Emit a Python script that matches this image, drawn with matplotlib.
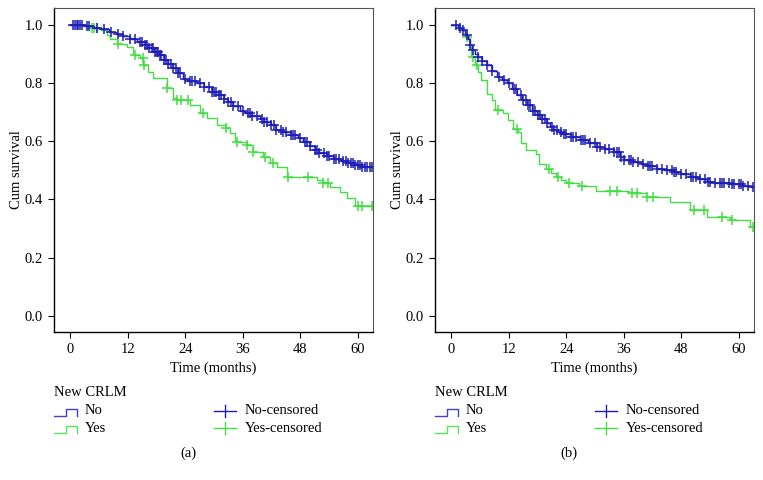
import numpy as np
import matplotlib.pyplot as plt
from matplotlib.lines import Line2D

plt.rcParams['font.family'] = ['Liberation Serif', 'DejaVu Serif']

BLUE = '#1f1fb8'
GREEN = '#44dd44'
T_END = 63.2

# panel (a): event times and survival after each step
a_no_t = [3, 5, 6.5, 8, 9.5, 11, 12.5, 14, 15.5, 16.5, 17.5, 18.5, 19.5, 20.5, 21.5,
          22.5, 23.5, 24.5, 26.5, 28, 29.5, 31, 32, 33, 34, 35.5, 36.5, 38, 39.5, 40.5,
          42, 43, 44.5, 46, 47.5, 48.5, 50, 51, 52, 53.5, 55, 56.5, 58, 59.5, 61]
a_no_s = [0.995, 0.99, 0.985, 0.975, 0.968, 0.96, 0.95, 0.94, 0.93, 0.92, 0.905, 0.895,
          0.88, 0.865, 0.85, 0.835, 0.815, 0.805, 0.80, 0.785, 0.77, 0.76, 0.745, 0.735,
          0.72, 0.705, 0.695, 0.685, 0.675, 0.665, 0.655, 0.64, 0.632, 0.622, 0.61, 0.598,
          0.585, 0.57, 0.56, 0.55, 0.54, 0.532, 0.525, 0.518, 0.512]
a_no_cens = [0.5, 1, 1.3, 1.6, 2, 2.5, 3.5, 4, 5.5, 7, 8.5, 10, 11, 12.5, 13.5, 14.5, 15,
             15.5, 16, 16.5, 17, 17.3, 17.6, 18, 18.3, 18.7, 19, 19.5, 20, 20.5, 21, 21.5,
             22, 22.5, 23, 24, 25, 25.5, 26, 27, 28, 29, 29.5, 30, 30.5, 31, 31.5, 32, 33,
             33.5, 34, 35, 36, 37, 37.5, 38, 39, 40, 40.5, 41, 42, 42.5, 43, 44, 44.5, 45,
             46, 46.5, 47, 48, 49, 49.5, 50, 51, 51.5, 52, 53, 53.5, 54, 55, 55.5, 56, 57,
             57.5, 58, 58.5, 59, 59.5, 60, 60.5, 61, 61.5, 62, 62.5, 63]

a_yes_t = [3.5, 6.5, 7.6, 8.3, 9.7, 11.8, 13.1, 14.5, 15.2, 16.3, 17.3, 20.1, 21.5, 22.2,
           25, 27, 28.5, 30.6, 32.6, 33.3, 34.4, 36.8, 38.2, 40.2, 41.7, 43.1, 45.2, 51.5,
           52.8, 54.2, 56.3, 57.7, 59.5]
a_yes_s = [0.99, 0.98, 0.965, 0.95, 0.935, 0.924, 0.895, 0.885, 0.86, 0.837, 0.816, 0.781,
           0.747, 0.741, 0.724, 0.696, 0.679, 0.655, 0.645, 0.627, 0.598, 0.587, 0.563,
           0.546, 0.524, 0.512, 0.478, 0.465, 0.455, 0.443, 0.426, 0.404, 0.377]
a_yes_cens = [4.5, 5, 5.5, 10, 13.5, 15.1, 15.4, 20.1, 22.2, 23.2, 24.6, 27.7, 32.6, 34.7,
              36.8, 38.2, 40.6, 42.4, 45.5, 49.7, 52.8, 53.8, 60.1, 60.8, 63]

# panel (b)
b_no_t = [1.5, 2.3, 2.9, 3.4, 3.8, 4.3, 5, 5.6, 6.5, 7.4, 8.5, 9.5, 10.5, 11.6, 12.6,
          13.7, 14.8, 15.8, 16.8, 17.9, 18.9, 19.9, 20.6, 21.3, 22.3, 23.4, 25, 26.9,
          28.5, 30.4, 32, 33.9, 35.3, 36, 38, 39.5, 41, 42.9, 44.5, 46.4, 48, 49.9, 51.5,
          53.4, 55, 58.3, 61, 62.5]
b_no_s = [0.99, 0.98, 0.965, 0.95, 0.93, 0.912, 0.9, 0.889, 0.875, 0.86, 0.84, 0.82, 0.81,
          0.798, 0.78, 0.758, 0.74, 0.723, 0.705, 0.689, 0.675, 0.661, 0.65, 0.638, 0.632,
          0.626, 0.615, 0.603, 0.592, 0.58, 0.572, 0.563, 0.545, 0.535, 0.53, 0.523, 0.515,
          0.506, 0.5, 0.495, 0.487, 0.478, 0.47, 0.46, 0.455, 0.452, 0.447, 0.441]
b_no_cens = [0.9, 1.8, 2.5, 3.2, 3.8, 4.5, 5.6, 6.5, 7.5, 8.5, 10, 11, 12, 13, 13.5, 14.5,
             15, 15.5, 16, 16.5, 17, 17.5, 18, 18.5, 19, 19.5, 20, 21, 21.5, 22, 23, 23.5,
             24, 25, 25.5, 26, 27, 27.5, 28, 29, 30, 30.5, 31, 32, 33, 34, 34.5, 35, 35.5,
             36, 37, 37.5, 38, 39, 40, 41, 41.5, 42, 43, 44, 45, 46, 46.5, 47, 48, 49, 50,
             50.5, 51, 52, 53, 53.5, 54, 55, 56, 56.5, 57, 58, 58.5, 59, 60, 60.5, 61, 62, 63]

b_yes_t = [1.8, 2.9, 3.6, 4.1, 5.0, 5.6, 6.3, 7.4, 8.4, 9.1, 10.8, 11.9, 12.9, 13.9, 14.6,
           15.6, 17.7, 18.4, 19.7, 20.8, 21.8, 22.8, 23.9, 26.7, 30.2, 37.2, 40.7, 45.6,
           49.8, 53.3, 58.2, 62.4]
b_yes_s = [0.98, 0.958, 0.924, 0.889, 0.86, 0.837, 0.809, 0.763, 0.74, 0.706, 0.695, 0.672,
           0.643, 0.632, 0.592, 0.569, 0.557, 0.523, 0.506, 0.49, 0.478, 0.465, 0.455,
           0.446, 0.43, 0.421, 0.409, 0.392, 0.363, 0.34, 0.329, 0.306]
b_yes_cens = [3.2, 4.6, 5.3, 9.8, 13.7, 20.3, 22.3, 24.5, 27.3, 33.2, 34.6, 37.7, 38.7,
              40.9, 42.2, 50.6, 52.7, 56.5, 58.6, 63]

x_ticks = [0, 12, 24, 36, 48, 60]
y_ticks = [0.0, 0.2, 0.4, 0.6, 0.8, 1.0]

W, H = 763, 480


def fx(px):
    return px / W


def fy(py):
    return 1 - py / H


def km(ax, t, s, cens, color):
    tt = np.r_[0, t, T_END]
    ss = np.r_[1.0, s, s[-1]]
    ax.step(tt, ss, where='post', color=color, lw=1.0)
    idx = np.searchsorted(tt, cens, side='right') - 1
    ax.plot(cens, ss[idx], ls='none', marker='+', ms=6.5, mew=1.1, color=color)


def legend(x0, label):
    fig.text(fx(x0), fy(393), 'New CRLM', fontsize=10.5, va='center', ha='left')
    for py, txt, col in [(411, 'No', BLUE), (428, 'Yes', GREEN)]:
        xs = [x0, x0 + 12, x0 + 12, x0 + 23, x0 + 23]
        ys = [py + 5, py + 5, py - 2, py - 2, py + 5]
        fig.add_artist(Line2D([fx(v) for v in xs], [fy(v) for v in ys], color=col, lw=1.0,
                              alpha=0.85, transform=fig.transFigure))
        fig.text(fx(x0 + 31), fy(py), txt, fontsize=10.5, va='center', ha='left')
    for py, txt, col in [(411, 'No-censored', BLUE), (428, 'Yes-censored', GREEN)]:
        cx = x0 + 171
        fig.add_artist(Line2D([fx(cx - 11), fx(cx + 11)], [fy(py), fy(py)], color=col,
                              lw=1.0, transform=fig.transFigure))
        fig.add_artist(Line2D([fx(cx), fx(cx)], [fy(py - 6), fy(py + 6)], color=col,
                              lw=1.0, transform=fig.transFigure))
        fig.text(fx(x0 + 191), fy(py), txt, fontsize=10.5, va='center', ha='left')
    fig.text(fx(x0 + 134), fy(453), label, fontsize=10.5, va='center', ha='center')


fig = plt.figure(figsize=(W / 100, H / 100), dpi=100)

panels = [
    (54, 70.3, (a_no_t, a_no_s, a_no_cens), (a_yes_t, a_yes_s, a_yes_cens), '(a)'),
    (435, 451.3, (b_no_t, b_no_s, b_no_cens), (b_yes_t, b_yes_s, b_yes_cens), '(b)'),
]

for left, x0px, no, yes, lab in panels:
    ax = fig.add_axes([fx(left), fy(332), (373 - 54) / W, (332 - 8) / H])
    km(ax, *yes, GREEN)
    km(ax, *no, BLUE)
    ppm = 287.4 / 60
    ax.set_xlim((left - x0px) / ppm, (left + 319 - x0px) / ppm)
    ax.set_ylim(-0.055, 1.057)
    ax.set_xticks(x_ticks)
    ax.set_yticks(y_ticks)
    ax.set_yticklabels([f'{v:.1f}' for v in y_ticks])
    ax.tick_params(direction='out', length=4, width=0.8, labelsize=10.5, pad=4)
    ax.set_xlabel('Time (months)', fontsize=10.5, labelpad=4)
    ax.set_ylabel('Cum survival', fontsize=10.5, labelpad=1)
    for side in ['top', 'right']:
        ax.spines[side].set_color('#555555')
        ax.spines[side].set_linewidth(0.8)
    for side in ['left', 'bottom']:
        ax.spines[side].set_linewidth(1.0)
    legend(left, lab)

fig.savefig('out.png', dpi=100)
